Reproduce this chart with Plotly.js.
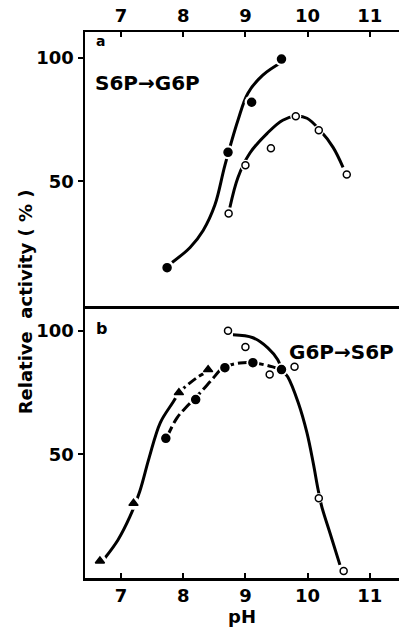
<!DOCTYPE html>
<html><head><meta charset="utf-8">
<script src="https://cdn.plot.ly/plotly-3.0.1.min.js"></script>
<style>html,body{margin:0;padding:0;background:#fff}#c{width:399px;height:629px}</style>
</head><body><div id="c"></div>
<script>
// ---- Panel a : S6P -> G6P ----
const aFilledPH = [7.74, 8.72, 9.10, 9.58];
const aFilledAct = [15.0, 61.8, 82.1, 99.6];
const aOpenPH = [8.73, 9.00, 9.41, 9.81, 10.18, 10.63];
const aOpenAct = [37.0, 56.5, 63.4, 76.4, 70.7, 52.8];
// curves as drawn in the figure
const aFilledCurvePH = [7.82, 8.11, 8.32, 8.51, 8.67, 8.88, 9.04, 9.28, 9.59];
const aFilledCurveAct = [17.1, 23.2, 30.1, 40.5, 56.5, 74.8, 85.8, 93.1, 98.4];
const aOpenCurvePH = [8.75, 8.88, 9.07, 9.35, 9.60, 9.81, 9.99, 10.20, 10.41, 10.57];
const aOpenCurveAct = [39.4, 51.6, 61.4, 69.5, 74.8, 76.4, 75.6, 70.7, 63.8, 55.7];

// ---- Panel b : G6P -> S6P ----
const bOpenPH = [8.72, 9.00, 9.39, 9.79, 10.18, 10.58];
const bOpenAct = [100.0, 93.5, 82.3, 85.5, 32.3, 2.8];
const bFilledPH = [7.72, 8.20, 8.67, 9.12, 9.58];
const bFilledAct = [56.5, 72.2, 85.1, 87.1, 84.3];
const bTriPH = [6.66, 7.20, 7.93, 8.40];
const bTriAct = [6.9, 30.2, 75.0, 84.3];
// curves
const bOpenCurvePH = [8.80, 9.12, 9.36, 9.52, 9.59, 9.68, 9.85, 9.99, 10.09, 10.17, 10.23, 10.36, 10.52];
const bOpenCurveAct = [98.4, 97.2, 93.1, 88.3, 84.2, 81.4, 70.9, 58.7, 46.6, 35.6, 28.7, 18.2, 5.3];
const bFilledCurvePH = [7.74, 7.90, 8.08, 8.27, 8.46, 8.64, 8.91, 9.12, 9.44, 9.58];
const bFilledCurveAct = [57.1, 64.8, 70.0, 74.9, 80.2, 85.0, 87.0, 87.1, 85.4, 84.2];
const bTriCurvePH = [6.74, 6.95, 7.14, 7.30, 7.45, 7.63, 7.84, 7.93];
const bTriCurveAct = [8.1, 15.4, 24.7, 35.0, 48.5, 62.8, 71.3, 75.0];
const bTriCurve2PH = [7.93, 8.03, 8.24, 8.38];
const bTriCurve2Act = [75.0, 77.3, 81.4, 83.4];

const xTicks = [7, 8, 9, 10, 11];
const xTickText = ['7', '8', '9', '10', '11'];
const yTicks = [50, 100];
const yTickText = ['50', '100'];

const FAM = 'DejaVu Sans';
const FONT = {family: FAM, size: 18, color: '#000', weight: 'bold'};
const LW = 3;

function curve(x, y, xa, ya, dash) {
  return {x: x, y: y, xaxis: xa, yaxis: ya, mode: 'lines', type: 'scatter',
    line: {color: '#000', width: LW, shape: 'spline', smoothing: 1, dash: dash || 'solid'},
    hoverinfo: 'skip', showlegend: false};
}
function gap(x, y, xa, ya, sz) {
  return {x: x, y: y, xaxis: xa, yaxis: ya, mode: 'markers', type: 'scatter',
    marker: {color: '#fff', size: sz || 13, line: {width: 0}}, hoverinfo: 'skip', showlegend: false};
}
function pts(x, y, xa, ya, sym, fill, sz) {
  return {x: x, y: y, xaxis: xa, yaxis: ya, mode: 'markers', type: 'scatter',
    marker: {symbol: sym, color: fill, size: sz, line: {color: '#000', width: 1.5}},
    showlegend: false};
}

const data = [
  curve(aFilledCurvePH, aFilledCurveAct, 'x2', 'y2'),
  curve(aOpenCurvePH, aOpenCurveAct, 'x2', 'y2'),
  gap(aFilledPH, aFilledAct, 'x2', 'y2', 14),
  gap(aOpenPH, aOpenAct, 'x2', 'y2', 11),
  pts(aFilledPH, aFilledAct, 'x2', 'y2', 'circle', '#000', 8),
  pts(aOpenPH, aOpenAct, 'x2', 'y2', 'circle', '#fff', 7),

  curve(bOpenCurvePH, bOpenCurveAct, 'x', 'y'),
  curve(bFilledCurvePH, bFilledCurveAct, 'x', 'y', '11px,4px'),
  curve(bTriCurvePH, bTriCurveAct, 'x', 'y'),
  curve(bTriCurve2PH, bTriCurve2Act, 'x', 'y', '9px,4px'),
  gap(bFilledPH, bFilledAct, 'x', 'y', 13),
  gap(bTriPH, bTriAct, 'x', 'y', 13),
  gap(bOpenPH, bOpenAct, 'x', 'y', 10),
  pts(bFilledPH, bFilledAct, 'x', 'y', 'circle', '#000', 8),
  pts(bTriPH, bTriAct, 'x', 'y', 'triangle-up', '#000', 8),
  pts(bOpenPH, bOpenAct, 'x', 'y', 'circle', '#fff', 7)
];

const XR = [6.42, 11.47];
function yax(domain, range, anchor) {
  return {domain: domain, anchor: anchor, range: range, tickvals: yTicks, ticktext: yTickText,
    ticks: 'outside', ticklen: 5, tickwidth: 2, tickcolor: '#000',
    showline: true, linewidth: 2.5, linecolor: '#000', showgrid: false, zeroline: false,
    tickfont: FONT};
}
const layout = {
  width: 399, height: 629,
  margin: {l: 85, r: 0, t: 32, b: 51},
  paper_bgcolor: '#fff', plot_bgcolor: '#fff',
  font: FONT,
  showlegend: false,
  xaxis: {domain: [0, 1], anchor: 'y', range: XR, tickvals: xTicks, ticktext: xTickText,
    ticks: 'inside', ticklen: 5, tickwidth: 2, tickcolor: '#000',
    showline: true, linewidth: 2.5, linecolor: '#000', showgrid: false, zeroline: false,
    tickfont: FONT},
  yaxis: yax([0, 0.498], [0, 110], 'x'),
  xaxis2: {domain: [0, 1], anchor: 'y2', side: 'top', range: XR, tickvals: xTicks, ticktext: xTickText,
    ticks: 'inside', ticklen: 5, tickwidth: 2, tickcolor: '#000',
    showline: true, mirror: true, linewidth: 2.5, linecolor: '#000', showgrid: false, zeroline: false,
    tickfont: FONT},
  yaxis2: yax([0.498, 1], [-0.6, 110.6], 'x2'),
  annotations: [
    {text: 'Relative  activity ( % )', textangle: -90, xref: 'paper', yref: 'paper',
      x: -0.191, y: 0.505, xanchor: 'center', yanchor: 'middle', showarrow: false,
      font: {family: FAM, size: 18, weight: 'bold', color: '#000'}},
    {text: 'pH', xref: 'paper', yref: 'paper', x: 0.5, y: -0.07, xanchor: 'center', yanchor: 'middle',
      showarrow: false, font: {family: FAM, size: 18, weight: 'bold', color: '#000'}},
    {text: 'a', xref: 'paper', yref: 'paper', x: 0.03, y: 0.983, xanchor: 'left', yanchor: 'middle',
      showarrow: false, font: {family: FAM, size: 14, weight: 'bold', color: '#000'}},
    {text: 'b', xref: 'paper', yref: 'paper', x: 0.03, y: 0.457, xanchor: 'left', yanchor: 'middle',
      showarrow: false, font: {family: FAM, size: 16, weight: 'bold', color: '#000'}},
    {text: 'S6P\u2192G6P', xref: 'paper', yref: 'paper', x: 0.025, y: 0.906, xanchor: 'left', yanchor: 'middle',
      showarrow: false, font: {family: FAM, size: 20, weight: 'bold', color: '#000'}},
    {text: 'G6P\u2192S6P', xref: 'paper', yref: 'paper', x: 0.99, y: 0.414, xanchor: 'right', yanchor: 'middle',
      showarrow: false, font: {family: FAM, size: 20, weight: 'bold', color: '#000'}}
  ]
};

Plotly.newPlot('c', data, layout, {staticPlot: true, displayModeBar: false});
</script>
</body></html>
